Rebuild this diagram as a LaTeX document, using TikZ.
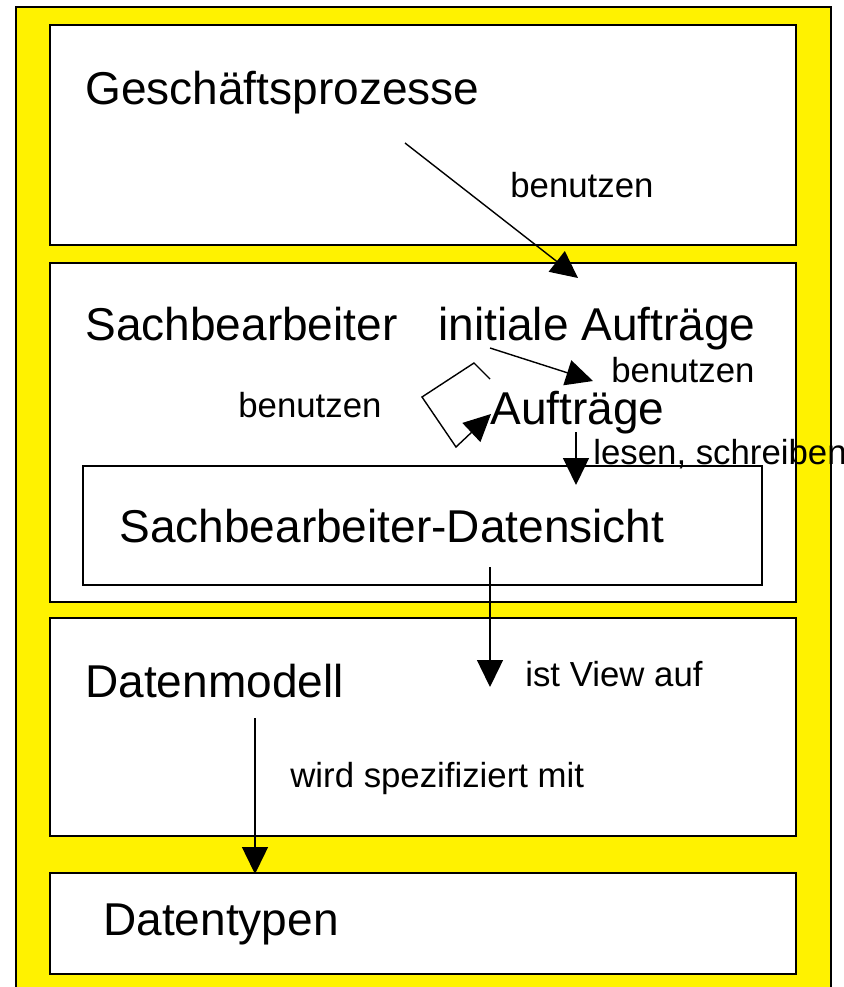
\documentclass[tikz,border=0pt]{standalone}
\usepackage{fontspec}
\setmainfont{Liberation Sans}
\usetikzlibrary{arrows.meta}

\begin{document}
\begin{tikzpicture}[x=0.02cm,y=-0.02cm]
\useasboundingbox (0,0) rectangle (844,987);
\fill[white] (0,0) rectangle (844,987);
\draw[line width=0.8pt,fill=yellow] (16,7) rectangle (831,1010);

\begin{scope}[every node/.style={rectangle,draw,fill=white,line width=0.8pt,inner sep=0pt,minimum width=14.92cm}]
    \node[minimum height=4.4cm]  (GP) at (423,135) {};
    \node[minimum height=6.78cm] (SB) at (423,432.5) {};
    \node[minimum height=4.36cm] (DM) at (423,727) {};
    \node[minimum height=2.02cm] (DT) at (423,923.5) {};
    \node[minimum width=13.58cm,minimum height=2.38cm] (DS) at (422.5,525.5) {};
\end{scope}

\begin{scope}[every node/.style={anchor=base west,inner sep=0pt,font=\fontsize{26.2}{31}\selectfont}]
    \node (gptext) at (85,104) {Geschäftsprozesse};
    \node (sbtext) at (85,340) {Sachbearbeiter};
    \node (iatext) at (438,340) {initiale Aufträge};
    \node (autext) at (490,424) {Aufträge};
    \node (dstext) at (119,542) {Sachbearbeiter-Datensicht};
    \node (dmtext) at (85,697) {Datenmodell};
    \node (dttext) at (103,935) {Datentypen};
\end{scope}

\begin{scope}[every node/.style={anchor=base west,inner sep=0pt,font=\fontsize{19.8}{23}\selectfont}]
    \node (use1) at (510,197) {benutzen};
    \node (use2) at (611,382) {benutzen};
    \node (use3) at (238,417) {benutzen};
    \node (rw)   at (593,464) {lesen, schreiben};
    \node (view) at (525,686) {ist View auf};
    \node (spec) at (290,787) {wird spezifiziert mit};
\end{scope}

% arrow ends
\coordinate (gpout) at (405,143);
\coordinate (iain)  at (578,278);
\coordinate (iaout) at (490,348);
\coordinate (auin)  at (593,381);
\coordinate (loopa) at (490,379);
\coordinate (loopb) at (474,363);
\coordinate (loopc) at (422,397);
\coordinate (loopd) at (456,447);
\coordinate (loopin) at (491,414);
\coordinate (auout) at (576,432);
\coordinate (dsin)  at (576,485);
\coordinate (dsout) at (490,567);
\coordinate (dmin)  at (490,687);
\coordinate (dmout) at (255,718);
\coordinate (dtin)  at (255,874);

\begin{scope}[>={Triangle[length=0.54cm,width=0.52cm]},
              every edge/.style={draw,line width=0.8pt}]
    \path [->] (gpout) edge (iain);
    \path [->] (iaout) edge (auin);
    \path [->] (auout) edge (dsin);
    \path [->] (dsout) edge (dmin);
    \path [->] (dmout) edge (dtin);
    \draw [->,line width=0.8pt] (loopa) -- (loopb) -- (loopc) -- (loopd) -- (loopin);
\end{scope}
\end{tikzpicture}
\end{document}
